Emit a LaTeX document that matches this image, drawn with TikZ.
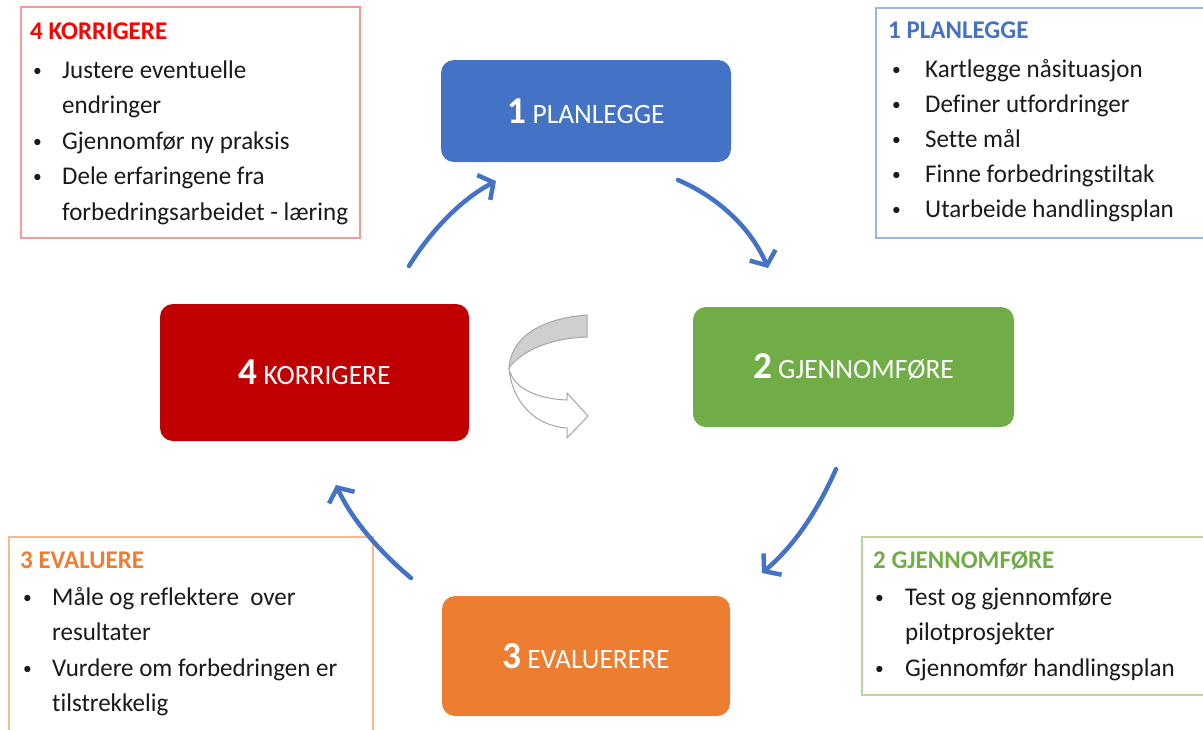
\documentclass[tikz,border=0pt]{standalone}
\usepackage{fontspec}
\setmainfont{Carlito}[FakeStretch=0.98, Ligatures=NoCommon]
\usetikzlibrary{arrows.meta}
\definecolor{cblue}{HTML}{4472C4}
\definecolor{cgreen}{HTML}{70AD47}
\definecolor{cred}{HTML}{C00000}
\definecolor{corange}{HTML}{ED7D31}
\definecolor{tred}{HTML}{FF0000}
\definecolor{lred}{HTML}{F49A9A}
\definecolor{lblue}{HTML}{9DB5E0}
\definecolor{lorange}{HTML}{F6B98E}
\definecolor{lgreen}{HTML}{B4D89C}
\definecolor{agray}{HTML}{A6A6A6}
\definecolor{fgray}{HTML}{CFCFCF}
\definecolor{ink}{HTML}{1A1A1A}
\newcommand\bitem[5]{\node[txt] (#1-b) at (#2,#4) {\raisebox{2pt}{\scalebox{0.7}{\textbullet}}}; \node[txt] (#1) at (#3,#4) {#5};}
\begin{document}
\begin{tikzpicture}[x=1pt,y=-1pt,
  mainbox/.style={rounded corners=13pt, inner sep=0pt, text=white, font=\fontsize{28}{30}\selectfont},
  infobox/.style={line width=1.3pt},
  txt/.style={anchor=base west, inner sep=0pt, text=ink, font=\fontsize{25.5}{30}\selectfont},
  ttl/.style={anchor=base west, inner sep=0pt, font=\fontsize{25.5}{30}\selectfont\bfseries},
  cyc/.style={draw=cblue, line width=4.5pt, line cap=round, -{Straight Barb[length=11pt,width=28pt]}}
]
\useasboundingbox (0,0) rectangle (1203,729);

% info boxes
\draw[infobox, lred] (21,7) rectangle (360,238);
\draw[infobox, lblue] (876,8) rectangle (1210,238);
\draw[infobox, lorange] (9,537) rectangle (373,740);
\draw[infobox, lgreen] (862,537) rectangle (1210,695);

% top-left text
\node[ttl, text=tred] (tl0) at (30,39) {4 KORRIGERE};
\bitem{tl1}{33}{62}{78}{Justere eventuelle}
\node[txt] (tl2) at (62,113.5) {endringer};
\bitem{tl3}{33}{62}{149}{Gjennomfør ny praksis}
\bitem{tl4}{33}{62}{184.5}{Dele erfaringene fra}
\node[txt] (tl5) at (62,220) {forbedringsarbeidet - læring};

% top-right text
\node[ttl, text=cblue] (tr0) at (888,38) {1 PLANLEGGE};
\bitem{tr1}{892}{925}{77}{Kartlegge nåsituasjon}
\bitem{tr2}{892}{925}{112}{Definer utfordringer}
\bitem{tr3}{892}{925}{147}{Sette mål}
\bitem{tr4}{892}{925}{182}{Finne forbedringstiltak}
\bitem{tr5}{892}{925}{217}{Utarbeide handlingsplan}

% bottom-left text
\node[ttl, text=corange] (bl0) at (20,568) {3 EVALUERE};
\bitem{bl1}{23}{52}{605}{Måle og reflektere\ \ over}
\node[txt] (bl2) at (52,640.5) {resultater};
\bitem{bl3}{23}{52}{676}{Vurdere om forbedringen er}
\node[txt] (bl4) at (52,711.5) {tilstrekkelig};

% bottom-right text
\node[ttl, text=cgreen] (br0) at (873,568) {2 GJENNOMFØRE};
\bitem{br1}{875}{905}{605}{Test og gjennomføre}
\node[txt] (br2) at (905,640.5) {pilotprosjekter};
\bitem{br3}{875}{905}{676}{Gjennomfør handlingsplan}

% main boxes
\node[mainbox, fill=cblue, minimum width=290pt, minimum height=102pt] (p1) at (586,111)
  {{\fontsize{38}{38}\selectfont\bfseries 1} PLANLEGGE};
\node[mainbox, fill=cgreen, minimum width=321pt, minimum height=120pt] (p2) at (853.5,367)
  {{\fontsize{38}{38}\selectfont\bfseries 2} GJENNOMFØRE};
\node[mainbox, fill=corange, minimum width=288pt, minimum height=120pt] (p3) at (586,656)
  {{\fontsize{38}{38}\selectfont\bfseries 3} EVALUERERE};
\node[mainbox, fill=cred, minimum width=309pt, minimum height=137pt] (p4) at (314.5,372.5)
  {{\fontsize{38}{38}\selectfont\bfseries 4} KORRIGERE};

% cycle arrows
\coordinate (a1s) at (678,180); \coordinate (a1e) at (768,268);
\coordinate (a2s) at (836,469); \coordinate (a2e) at (762,573);
\coordinate (a3s) at (411,578); \coordinate (a3e) at (336,485);
\coordinate (a4s) at (409,266); \coordinate (a4e) at (496,181);
\draw[cyc] (a1s) .. controls (720,198) and (752,230) .. (a1e);
\draw[cyc] (a2s) .. controls (818,510) and (795,545) .. (a2e);
\draw[cyc] (a3s) .. controls (380,552) and (352,520) .. (a3e);
\draw[cyc] (a4s) .. controls (430,232) and (460,200) .. (a4e);

% central curved arrow
\draw[agray, line width=1pt, fill=white, line join=miter]
  (509,368) .. controls (512,402) and (535,426) .. (567,428)
  -- (567,438) -- (588,416) -- (567,393) -- (567,400)
  .. controls (540,399) and (516,390) .. (510,372);
\draw[agray, line width=1pt, fill=fgray]
  (587,315) .. controls (545,318) and (511,335) .. (509,368)
  .. controls (522,350) and (552,338) .. (587,337) -- cycle;
\end{tikzpicture}
\end{document}
